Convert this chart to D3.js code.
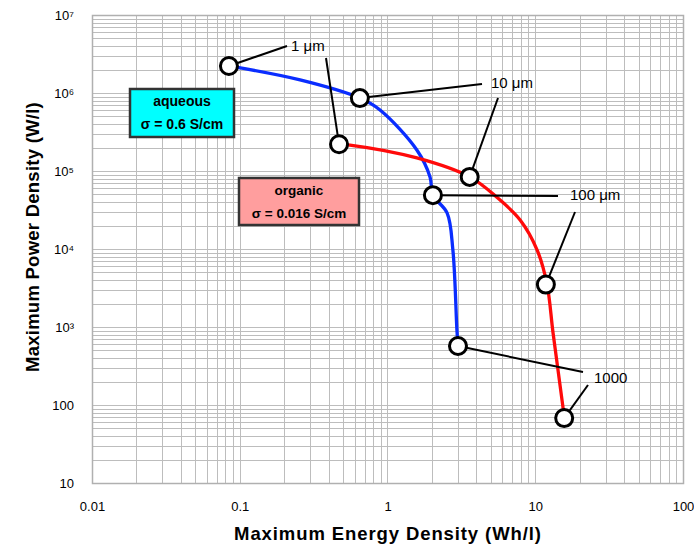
<!DOCTYPE html>
<html>
<head>
<meta charset="utf-8">
<script src="https://cdn.jsdelivr.net/npm/d3@7/dist/d3.min.js"></script>
<style>
  html, body { margin: 0; padding: 0; background: #fff; }
  svg { display: block; font-family: "Liberation Sans", Arial, Helvetica, sans-serif; }
</style>
</head>
<body>
<svg id="chart" width="694" height="546"></svg>
<script>
// ---------- data ----------
const xTickValues = [0.01, 0.1, 1, 10, 100];
const xTickLabels = ["0.01", "0.1", "1", "10", "100"];
const yTickValues = [1e7, 1e6, 1e5, 1e4, 1e3, 100, 10];
const yTickLabels = ["10\u2077", "10\u2076", "10\u2075", "10\u2074", "10\u00B3", "100", "10"];

// aqueous curve (energy Wh/l, power W/l)
const aqueousEnergy = [0.0845, 0.256, 0.65, 0.89, 1.58, 1.94, 2.03, 2.53, 2.77, 2.95, 3.0];
const aqueousPower  = [2.22e6, 1.47e6, 8.6e5, 6.05e5, 1.86e5, 8.4e4, 4.9e4, 2.9e4, 9700, 916, 570];
// organic curve
const organicEnergy = [0.47, 0.557, 1.58, 3.6, 5.5, 7.9, 10.3, 12.0, 13.2, 15.4, 15.7];
const organicPower  = [2.2e5, 2.15e5, 1.47e5, 8.4e4, 4.6e4, 2.36e4, 9700, 3560, 838, 94, 68];

// marked points (electrode thickness)
const thicknessLabels = ["1 \u03BCm", "10 \u03BCm", "100 \u03BCm", "1000"];
const aqueousMarkEnergy = [0.0845, 0.65, 2.03, 3.0];
const aqueousMarkPower  = [2.22e6, 8.6e5, 4.9e4, 570];
const organicMarkEnergy = [0.47, 3.6, 11.8, 15.7];
const organicMarkPower  = [2.2e5, 8.4e4, 3500, 68];

const legendTitles = ["aqueous", "organic"];
const legendSigma = ["\u03C3 = 0.6 S/cm", "\u03C3 = 0.016 S/cm"];

// ---------- layout ----------
const plot = { left: 92, right: 683, top: 15, bottom: 483 };
const svg = d3.select("#chart");

const x = d3.scaleLog().domain([0.01, 100]).range([plot.left, plot.right]);
const y = d3.scaleLog().domain([10, 1e7]).range([plot.bottom, plot.top]);

// grid
const grid = svg.append("g").attr("stroke", "#bdbdbd").attr("stroke-width", 1).attr("shape-rendering", "crispEdges");
const xGrid = [];
for (let e = -2; e < 2; e++) for (let k = 1; k <= 9; k++) xGrid.push(k * Math.pow(10, e));
xGrid.push(100);
const yGrid = [];
for (let e = 1; e < 7; e++) for (let k = 1; k <= 9; k++) yGrid.push(k * Math.pow(10, e));
yGrid.push(1e7);
grid.selectAll("line.vx").data(xGrid).enter().append("line")
  .attr("x1", d => Math.round(x(d)) + 0.5).attr("x2", d => Math.round(x(d)) + 0.5)
  .attr("y1", plot.top).attr("y2", plot.bottom);
grid.selectAll("line.hy").data(yGrid).enter().append("line")
  .attr("y1", d => Math.round(y(d)) + 0.5).attr("y2", d => Math.round(y(d)) + 0.5)
  .attr("x1", plot.left).attr("x2", plot.right);
svg.append("rect").attr("x", plot.left + 0.5).attr("y", plot.top + 0.5)
  .attr("width", plot.right - plot.left).attr("height", plot.bottom - plot.top)
  .attr("fill", "none").attr("stroke", "#b0b0b0").attr("stroke-width", 1.5);

// axes (labels only)
const xAxis = d3.axisBottom(x).tickValues(xTickValues)
  .tickFormat((d, i) => xTickLabels[i]).tickSize(0).tickPadding(0);
const gx = svg.append("g").attr("transform", `translate(0,${plot.bottom + 19})`).call(xAxis);
gx.select(".domain").remove();
gx.selectAll("text").attr("font-size", 13).attr("fill", "#000")
  .attr("font-family", "'Liberation Sans', Arial, sans-serif");

const yAxis = d3.axisLeft(y).tickValues(yTickValues)
  .tickFormat((d, i) => yTickLabels[i]).tickSize(0).tickPadding(0);
const gy = svg.append("g").attr("transform", `translate(${plot.left - 18},0)`).call(yAxis);
gy.select(".domain").remove();
gy.selectAll("text").attr("font-size", 13).attr("fill", "#000")
  .attr("font-family", "'Liberation Sans', Arial, sans-serif");

// axis titles
svg.append("text").attr("x", 388).attr("y", 540).attr("text-anchor", "middle")
  .attr("font-size", 18.5).attr("font-weight", "bold").attr("letter-spacing", 0.9)
  .text("Maximum Energy Density (Wh/l)");
svg.append("text").attr("transform", "translate(39,237) rotate(-90)").attr("text-anchor", "middle")
  .attr("font-size", 18.5).attr("font-weight", "bold").attr("letter-spacing", 0.25)
  .text("Maximum Power Density (W/l)");

// curves
const line = d3.line().x(d => x(d[0])).y(d => y(d[1])).curve(d3.curveCatmullRom.alpha(0.5));
svg.append("path").datum(aqueousEnergy.map((e, i) => [e, aqueousPower[i]]))
  .attr("d", line).attr("fill", "none").attr("stroke", "#0a2dff").attr("stroke-width", 3.3);
svg.append("path").datum(organicEnergy.map((e, i) => [e, organicPower[i]]))
  .attr("d", line).attr("fill", "none").attr("stroke", "#ff0a0a").attr("stroke-width", 3.3);

// annotation label positions (pixels) and leader ends
const annLabelPos = [[291, 51], [491, 88], [570, 200], [594, 383]];
const annLeaderA = [[287, 46], [482, 84], [558, 196], [583, 372]];
const annLeaderB = [[326, 58], [498, 98], [575, 212], [588, 385]];
const ann = svg.append("g");
thicknessLabels.forEach((lab, i) => {
  ann.append("line")
    .attr("x1", x(aqueousMarkEnergy[i])).attr("y1", y(aqueousMarkPower[i]))
    .attr("x2", annLeaderA[i][0]).attr("y2", annLeaderA[i][1])
    .attr("stroke", "#000").attr("stroke-width", 2);
  ann.append("line")
    .attr("x1", annLeaderB[i][0]).attr("y1", annLeaderB[i][1])
    .attr("x2", x(organicMarkEnergy[i])).attr("y2", y(organicMarkPower[i]))
    .attr("stroke", "#000").attr("stroke-width", 2);
  ann.append("text").attr("x", annLabelPos[i][0]).attr("y", annLabelPos[i][1])
    .attr("font-size", 15).attr("fill", "#000").text(lab);
});

// markers
const marks = aqueousMarkEnergy.map((e, i) => [e, aqueousMarkPower[i]])
  .concat(organicMarkEnergy.map((e, i) => [e, organicMarkPower[i]]));
svg.selectAll("circle.mk").data(marks).enter().append("circle")
  .attr("cx", d => x(d[0])).attr("cy", d => y(d[1])).attr("r", 8.5)
  .attr("fill", "#fff").attr("stroke", "#000").attr("stroke-width", 3);

// legend boxes
const boxes = [
  { x: 130, y: 89, w: 104, h: 48, fill: "#00ffff", fs: 14 },
  { x: 239, y: 178, w: 120, h: 47, fill: "#ff9e9e", fs: 13.5 }
];
boxes.forEach((b, i) => {
  svg.append("rect").attr("x", b.x).attr("y", b.y).attr("width", b.w).attr("height", b.h)
    .attr("fill", b.fill).attr("stroke", "#333").attr("stroke-width", 2.5);
  svg.append("text").attr("x", b.x + b.w / 2).attr("y", b.y + 17).attr("text-anchor", "middle")
    .attr("font-size", b.fs).attr("font-weight", "bold").text(legendTitles[i]);
  svg.append("text").attr("x", b.x + b.w / 2).attr("y", b.y + 40).attr("text-anchor", "middle")
    .attr("font-size", b.fs).attr("font-weight", "bold").text(legendSigma[i]);
});
</script>
</body>
</html>
